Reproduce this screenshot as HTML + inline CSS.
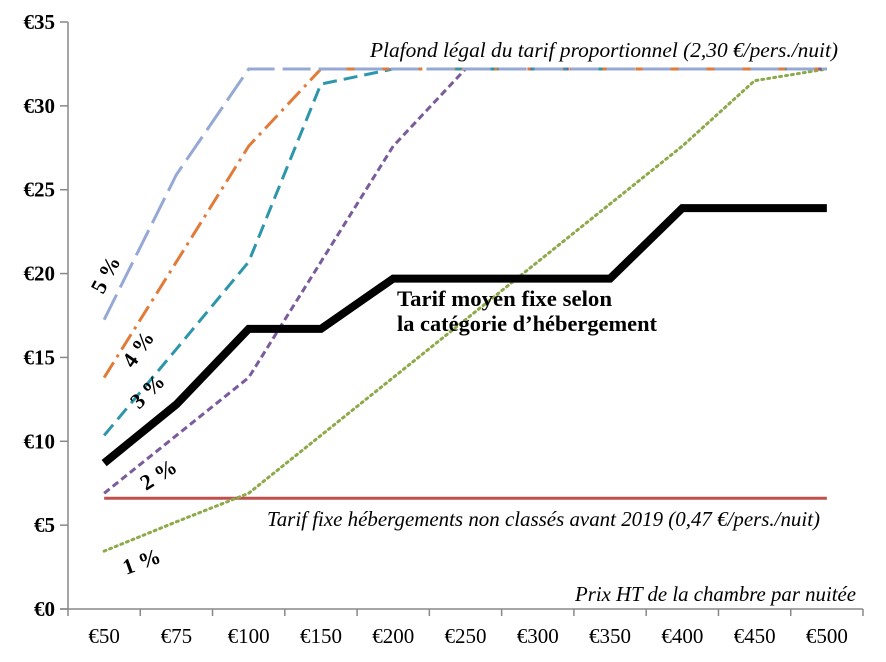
<!DOCTYPE html>
<html><head><meta charset="utf-8">
<style>
html,body{margin:0;padding:0;background:#fff;}
svg{display:block;font-family:"Liberation Serif",serif;}
</style></head>
<body>
<svg id="chart" width="886" height="662" viewBox="0 0 886 662"></svg>
<script>
const categories=["€50","€75","€100","€150","€200","€250","€300","€350","€400","€450","€500"];
const yTicks=[0,5,10,15,20,25,30,35];
const tarifMoyen=[8.7,12.2,16.7,16.7,19.7,19.7,19.7,19.7,23.9,23.9,23.9];
const nonClasses=[6.6,6.6,6.6,6.6,6.6,6.6,6.6,6.6,6.6,6.6,6.6];
const pct1=[3.45,5.2,6.9,10.35,13.8,17.25,20.7,24.15,27.6,31.5,32.2];
const pct2=[6.9,10.35,13.8,20.7,27.6,32.2,32.2,32.2,32.2,32.2,32.2];
const pct3=[10.35,15.5,20.7,31.3,32.2,32.2,32.2,32.2,32.2,32.2,32.2];
const pct4=[13.8,20.7,27.6,32.2,32.2,32.2,32.2,32.2,32.2,32.2,32.2];
const pct5=[17.25,25.9,32.2,32.2,32.2,32.2,32.2,32.2,32.2,32.2,32.2];

const NS="http://www.w3.org/2000/svg";
const svg=document.getElementById('chart');
const L=68,R=863,T=22,B=609,step=(R-L)/categories.length;
const x=i=>L+(i+0.5)*step;
const y=v=>B-(v/35)*(B-T);
function mk(tag,attrs,parent){const e=document.createElementNS(NS,tag);for(const k in attrs)e.setAttribute(k,attrs[k]);(parent||svg).appendChild(e);return e;}

let ax=mk('line',{x1:L,y1:T,x2:L,y2:B,stroke:'#888','stroke-width':1.5});


let bx=mk('line',{x1:L-8,y1:B,x2:R,y2:B,stroke:'#888','stroke-width':1.5});


yTicks.forEach(v=>{
  const t=mk('line',{x1:L-8,y1:y(v),x2:L,y2:y(v),stroke:'#888','stroke-width':1.5});
  
  
  const lb=mk('text',{x:L-13,y:y(v)+7,'text-anchor':'end','font-size':21,'font-weight':'bold',fill:'#000'});
  lb.textContent='€'+v;
  
  
});
for(let i=0;i<=categories.length;i++){
  const t=mk('line',{x1:L+i*step,y1:B,x2:L+i*step,y2:B+7,stroke:'#888','stroke-width':1.5});
  
  
}
categories.forEach((c,i)=>{
  const lb=mk('text',{x:x(i),y:643,'text-anchor':'middle','font-size':21,fill:'#000'});
  lb.textContent=c;
  
  
});
function series(data,name,attrs){
  const pts=data.map((v,i)=>x(i)+','+y(v)).join(' ');
  const p=mk('polyline',Object.assign({points:pts,fill:'none'},attrs));
  
  
}
series(nonClasses,'series-non-classes',{stroke:'#C0504D','stroke-width':3});
series(pct1,'series-1-pct',{stroke:'#8DAA4A','stroke-width':3,'stroke-dasharray':'2 4','stroke-linecap':'round'});
series(pct2,'series-2-pct',{stroke:'#7A5C9C','stroke-width':3,'stroke-dasharray':'7 4'});
series(pct3,'series-3-pct',{stroke:'#2E96AA','stroke-width':3,'stroke-dasharray':'14 7'});
series(pct4,'series-4-pct',{stroke:'#E07B39','stroke-width':3,'stroke-dasharray':'18 6 3 6'});
series(pct5,'series-5-pct',{stroke:'#95A9D4','stroke-width':3,'stroke-dasharray':'28 8'});
series(tarifMoyen,'series-tarif-moyen',{stroke:'#000','stroke-width':8,'stroke-linejoin':'miter'});

function txt(s,a,name){const e=mk('text',a);e.textContent=s;return e;}
txt('Plafond légal du tarif proportionnel (2,30 €/pers./nuit)',{x:370,y:57,'font-size':21,'font-style':'italic',textLength:468,lengthAdjust:'spacingAndGlyphs'},'cap-annotation');
txt('Tarif fixe hébergements non classés avant 2019 (0,47 €/pers./nuit)',{x:267,y:526,'font-size':21,'font-style':'italic',textLength:553,lengthAdjust:'spacingAndGlyphs'},'non-classes-annotation');
txt('Prix HT de la chambre par nuitée',{x:575,y:601,'font-size':21,'font-style':'italic',textLength:281,lengthAdjust:'spacingAndGlyphs'},'x-axis-title');
txt('Tarif moyen fixe selon',{x:397,y:306,'font-size':22,'font-weight':'bold',textLength:215,lengthAdjust:'spacingAndGlyphs'},'tarif-moyen-label-1');
txt('la catégorie d’hébergement',{x:397,y:331,'font-size':22,'font-weight':'bold',textLength:260,lengthAdjust:'spacingAndGlyphs'},'tarif-moyen-label-2');
txt('5 %',{x:0,y:0,'font-size':22,'font-weight':'bold',transform:'translate(103,295) rotate(-62)'},'label-5-pct');
txt('4 %',{x:0,y:0,'font-size':22,'font-weight':'bold',transform:'translate(133,369) rotate(-55)'},'label-4-pct');
txt('3 %',{x:0,y:0,'font-size':22,'font-weight':'bold',transform:'translate(139,410) rotate(-45)'},'label-3-pct');
txt('2 %',{x:0,y:0,'font-size':22,'font-weight':'bold',transform:'translate(146,491) rotate(-32)'},'label-2-pct');
txt('1 %',{x:0,y:0,'font-size':22,'font-weight':'bold',transform:'translate(126,575) rotate(-20)'},'label-1-pct');
</script>
</body></html>
